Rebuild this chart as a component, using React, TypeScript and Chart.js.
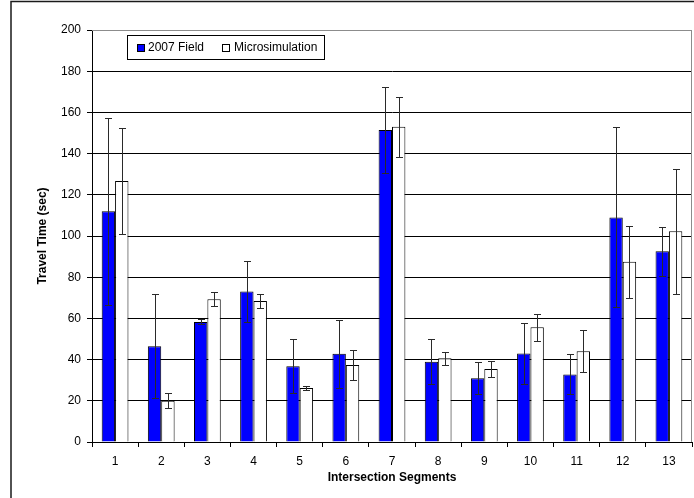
import React, { useEffect, useRef } from "react";
import { Chart, registerables } from "chart.js";

Chart.register(...registerables);

const categories = ["1", "2", "3", "4", "5", "6", "7", "8", "9", "10", "11", "12", "13"];
const fieldValues = [112, 46.5, 58.3, 73, 36.8, 42.8, 151.5, 39, 31, 43, 32.8, 109, 92.6];
const fieldErrors = [45.5, 25.2, 1.2, 14.8, 13.2, 16.6, 20.8, 11, 7.7, 15, 9.7, 43.7, 12];
const simValues = [126.7, 20, 69.3, 68.5, 26.2, 37.4, 153, 40.6, 35.4, 55.7, 44, 87.5, 102.3];
const simErrors = [25.7, 3.7, 3.5, 3.3, 1, 7.2, 14.5, 3.2, 3.8, 6.5, 10.2, 17.4, 30.4];
const seriesLabels = ["2007 Field", "Microsimulation"];
const yTitle = "Travel Time (sec)";
const xTitle = "Intersection Segments";

const FONT = "'Liberation Sans', Arial, Helvetica, sans-serif";

const errorBarPlugin = {
  id: "errorBars",
  afterDatasetsDraw(chart: any) {
    const { ctx } = chart;
    const yScale = chart.scales.y;
    chart.data.datasets.forEach((ds: any, di: number) => {
      const meta = chart.getDatasetMeta(di);
      const errs: number[] = ds.errors || [];
      meta.data.forEach((bar: any, i: number) => {
        const v = ds.data[i];
        const e = errs[i];
        if (e == null) return;
        const x = Math.round(bar.x) + 0.5;
        const yt = Math.round(yScale.getPixelForValue(v + e)) + 0.5;
        const yb = Math.round(yScale.getPixelForValue(v - e)) + 0.5;
        ctx.save();
        ctx.strokeStyle = "#2a2a2a";
        ctx.lineWidth = 1;
        ctx.beginPath();
        ctx.moveTo(x, yt);
        ctx.lineTo(x, yb);
        ctx.moveTo(x - 3.5, yt);
        ctx.lineTo(x + 3.5, yt);
        ctx.moveTo(x - 3.5, yb);
        ctx.lineTo(x + 3.5, yb);
        ctx.stroke();
        ctx.restore();
      });
    });
  },
};

const framePlugin = {
  id: "frameAndLegend",
  afterDraw(chart: any) {
    const { ctx, chartArea } = chart;
    ctx.save();
    // plot area border (top and right, gray)
    ctx.strokeStyle = "#8c8c8c";
    ctx.lineWidth = 1;
    ctx.beginPath();
    ctx.moveTo(chartArea.left, chartArea.top + 0.5);
    ctx.lineTo(chartArea.right - 0.5, chartArea.top + 0.5);
    ctx.lineTo(chartArea.right - 0.5, chartArea.bottom);
    ctx.stroke();
    // outer frame
    ctx.strokeStyle = "#1a1a1a";
    ctx.lineWidth = 1.5;
    ctx.beginPath();
    ctx.moveTo(11, chart.height + 5);
    ctx.lineTo(11, 1.5);
    ctx.lineTo(chart.width + 5, 1.5);
    ctx.stroke();

    // legend
    const bx = 127.5, by = 35.5, bw = 197, bh = 24;
    ctx.fillStyle = "#fff";
    ctx.fillRect(bx, by, bw, bh);
    ctx.strokeStyle = "#000";
    ctx.lineWidth = 1;
    ctx.strokeRect(bx, by, bw, bh);
    ctx.font = "12px " + FONT;
    ctx.textBaseline = "middle";
    ctx.textAlign = "left";
    const cy = 47.5;
    const items = [
      { sx: 137, tx: 148 },
      { sx: 222, tx: 234 },
    ];
    chart.data.datasets.forEach((ds: any, i: number) => {
      const it = items[i];
      ctx.fillStyle = ds.backgroundColor;
      ctx.fillRect(it.sx, cy - 3.5, 7, 7);
      ctx.strokeStyle = "#000";
      ctx.strokeRect(it.sx + 0.5, cy - 3.5 + 0.5, 7, 7);
      ctx.fillStyle = "#000";
      ctx.fillText(ds.label, it.tx, cy + 0.5);
    });
    ctx.restore();
  },
};

export default function App() {
  const ref = useRef<HTMLCanvasElement | null>(null);

  useEffect(() => {
    if (!ref.current) return;
    Chart.defaults.font.family = FONT;
    Chart.defaults.font.size = 12;
    Chart.defaults.color = "#000";
    const chart = new Chart(ref.current, {
      type: "bar",
      data: {
        labels: categories,
        datasets: [
          {
            label: seriesLabels[0],
            data: fieldValues,
            errors: fieldErrors,
            backgroundColor: "#0000ff",
            borderColor: "#000",
            borderWidth: 1,
            categoryPercentage: 0.58,
            barPercentage: 1,
          } as any,
          {
            label: seriesLabels[1],
            data: simValues,
            errors: simErrors,
            backgroundColor: "#ffffff",
            borderColor: "#000",
            borderWidth: 1,
            categoryPercentage: 0.58,
            barPercentage: 1,
          } as any,
        ],
      },
      options: {
        animation: false,
        responsive: false,
        devicePixelRatio: 1,
        layout: { padding: { top: 30, right: 2, left: 0, bottom: 0 } },
        plugins: {
          legend: { display: false },
          tooltip: { enabled: false },
        },
        scales: {
          x: {
            grid: {
              display: true,
              drawOnChartArea: false,
              drawTicks: true,
              tickLength: 5,
              color: "#000",
              offset: true,
            },
            border: { display: true, color: "#000" },
            ticks: { padding: 7, color: "#000", font: { size: 12 }, maxRotation: 0 },
            title: {
              display: true,
              text: xTitle,
              font: { size: 12, weight: "bold" },
              padding: { top: 0, bottom: 13 },
              color: "#000",
            },
            afterFit: (scale: any) => {
              scale.height = 56;
            },
          },
          y: {
            min: 0,
            max: 200,
            ticks: { stepSize: 20, padding: 6, color: "#000", font: { size: 12 } },
            grid: {
              color: (c: any) => (c.tick && c.tick.value === 200 ? "#8c8c8c" : "#000"),
              tickColor: "#000",
              tickLength: 5,
              lineWidth: 1,
            },
            border: { display: true, color: "#000" },
            title: {
              display: true,
              text: yTitle,
              font: { size: 12, weight: "bold" },
              padding: { top: 35, bottom: 0 },
              color: "#000",
            },
            afterFit: (scale: any) => {
              scale.width = 92;
            },
          },
        },
      } as any,
      plugins: [errorBarPlugin, framePlugin],
    });
    return () => chart.destroy();
  }, []);

  return (
    <div style={{ position: "fixed", left: 0, top: 0, width: 694, height: 498, background: "#fff", overflow: "hidden" }}>
      <canvas ref={ref} width={694} height={498} style={{ width: 694, height: 498, display: "block" }} />
    </div>
  );
}
